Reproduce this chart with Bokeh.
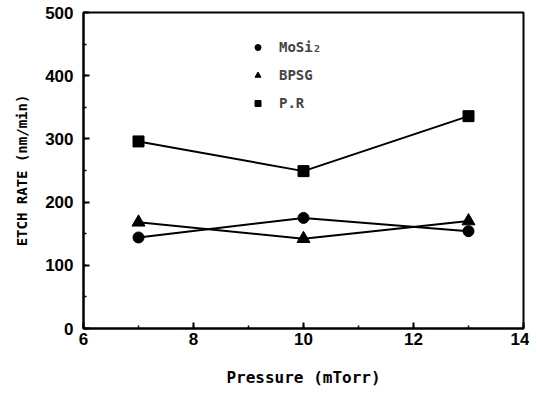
from bokeh.plotting import figure
from bokeh.models import SingleIntervalTicker, Legend, LegendItem, Range1d
from bokeh.embed import file_html
from bokeh.resources import INLINE

pressure = [7, 10, 13]
mosi2 = [144, 175, 154]
bpsg = [168, 142, 170]
pr = [296, 249, 336]

x_ticks_interval = 2
y_ticks_interval = 100

p = figure(width=529, height=389, output_backend="svg", toolbar_location=None,
           x_range=Range1d(6, 14), y_range=Range1d(0, 500),
           min_border_left=83, min_border_right=6, min_border_top=12, min_border_bottom=61)
p.xgrid.visible = False
p.ygrid.visible = False
p.outline_line_color = "black"
p.outline_line_width = 2
p.outline_line_alpha = 1

p.xaxis.ticker = SingleIntervalTicker(interval=x_ticks_interval, num_minor_ticks=2)
p.yaxis.ticker = SingleIntervalTicker(interval=y_ticks_interval, num_minor_ticks=2)

for ax in (p.xaxis[0], p.yaxis[0]):
    ax.axis_line_width = 2
    ax.major_tick_in = 6
    ax.major_tick_out = 0
    ax.minor_tick_in = 3
    ax.minor_tick_out = 0
    ax.major_tick_line_width = 2
    ax.minor_tick_line_width = 1.5
    ax.major_label_text_font = "Liberation Sans"
    ax.major_label_text_font_style = "bold"
    ax.major_label_text_font_size = "17px"
    ax.major_label_text_color = "black"
    ax.axis_label_text_font = "DejaVu Sans Mono"
    ax.axis_label_text_font_style = "bold"
    ax.axis_label_text_color = "black"

p.xaxis.axis_label = "Pressure (mTorr)"
p.xaxis.axis_label_text_font_size = "16px"
p.xaxis.axis_label_standoff = 20
p.xaxis.major_label_standoff = 4
p.yaxis.axis_label = "ETCH RATE (nm/min)"
p.yaxis.axis_label_text_font_size = "14px"
p.yaxis.axis_label_standoff = 12
p.yaxis.major_label_standoff = 10

p.line(pressure, mosi2, line_color="black", line_width=2)
p.line(pressure, bpsg, line_color="black", line_width=2)
p.line(pressure, pr, line_color="black", line_width=2)
r1 = p.scatter(pressure, mosi2, marker="circle", size=11, color="black")
r2 = p.scatter(pressure, bpsg, marker="triangle", size=13, color="black")
r3 = p.scatter(pressure, pr, marker="square", size=11, color="black")

legend = Legend(items=[LegendItem(label="MoSi₂", renderers=[r1]),
                       LegendItem(label="BPSG", renderers=[r2]),
                       LegendItem(label="P.R", renderers=[r3])],
                location=(167, 215), padding=0, margin=0, spacing=8,
                glyph_width=15, glyph_height=20, label_standoff=14,
                border_line_alpha=0, background_fill_alpha=0,
                label_text_font="DejaVu Sans Mono", label_text_font_style="bold",
                label_text_font_size="14px")
p.add_layout(legend, "center")

open("out.html", "w").write(file_html(p, INLINE))
